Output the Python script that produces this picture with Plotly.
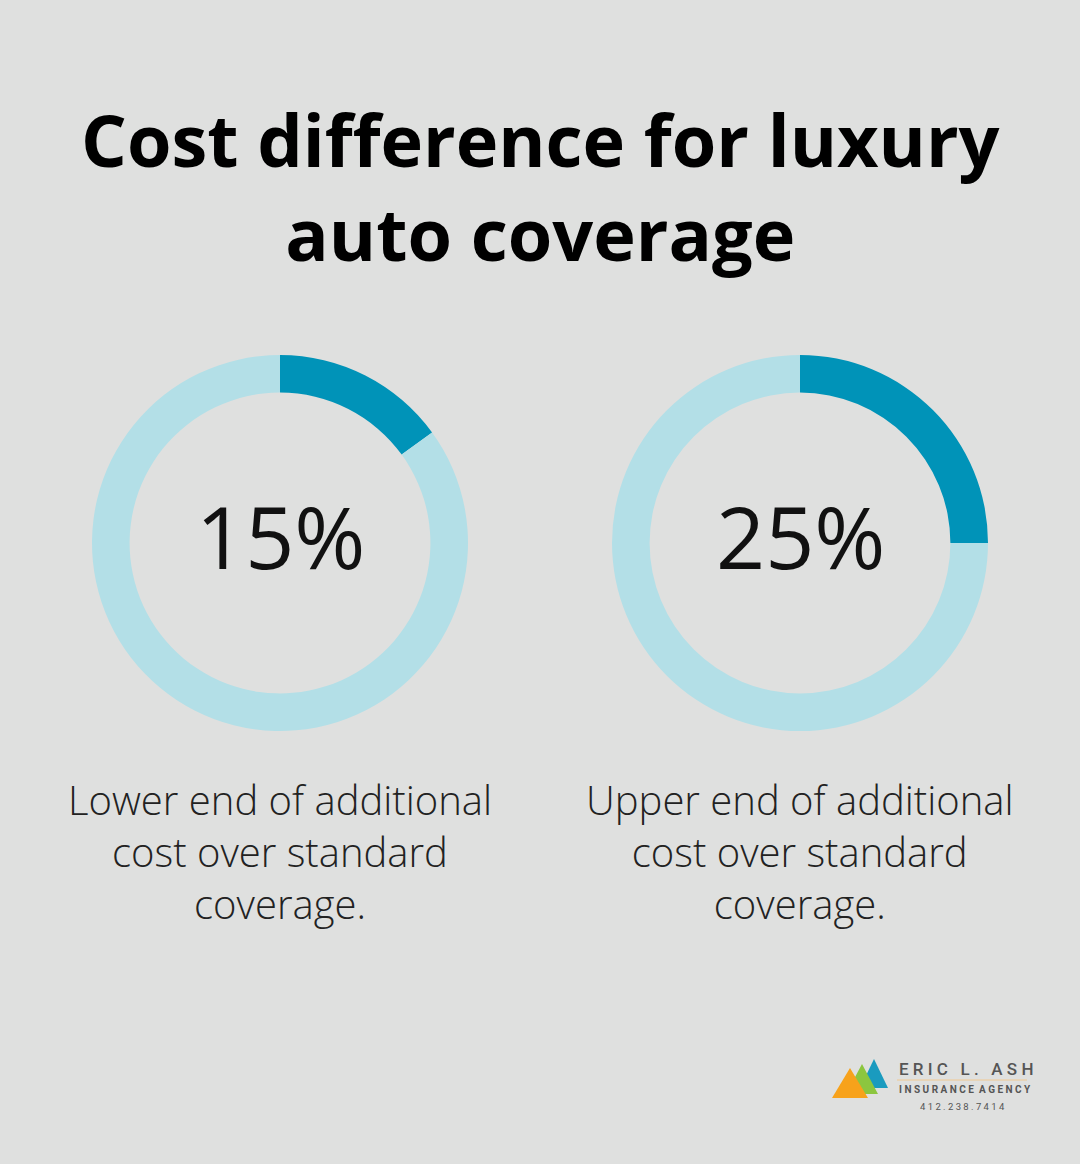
import plotly.graph_objects as go

values = [15, 25]
labels = ["15%", "25%"]
descs = ["Lower end of additional<br>cost over standard<br>coverage.",
         "Upper end of additional<br>cost over standard<br>coverage."]
centers_x = [280, 800]
W, H = 1080, 1164
cy = 543
R = 188

fig = go.Figure()
for v, cx in zip(values, centers_x):
    fig.add_trace(go.Pie(
        values=[v, 100 - v], sort=False, direction="clockwise", rotation=0,
        hole=0.80, textinfo="none", hoverinfo="skip", showlegend=False,
        marker=dict(colors=["#0093b8", "#b3dfe7"], line=dict(width=0)),
        domain=dict(x=[(cx - R) / W, (cx + R) / W], y=[(H - cy - R) / H, (H - cy + R) / H]),
    ))

ann = [dict(text="<b>Cost difference for luxury<br>auto coverage</b>", x=0.5, y=1 - 186 / H,
            xanchor="center", yanchor="middle",
            font=dict(family="Open Sans", size=72, color="#000"))]
for lab, d, cx in zip(labels, descs, centers_x):
    ann.append(dict(text=lab, x=cx / W, y=1 - 536 / H, xanchor="center", yanchor="middle",
                    font=dict(family="Open Sans", size=86, color="#111", weight=500)))
    ann.append(dict(text=d, x=cx / W, y=1 - 851 / H, xanchor="center", yanchor="middle",
                    font=dict(family="Open Sans", size=40, color="#222", weight=300)))
ann += [
    dict(text="E R I C   L .   A S H", x=897 / W, y=1 - 1069 / H, xanchor="left", yanchor="middle",
         font=dict(family="Roboto", size=17, color="#555", weight=500)),
    dict(text="I N S U R A N C E  A G E N C Y", x=897 / W, y=1 - 1089 / H, xanchor="left", yanchor="middle",
         font=dict(family="Roboto", size=10, color="#555", weight=700)),
    dict(text="4 1 2 . 2 3 8 . 7 4 1 4", x=962 / W, y=1 - 1106 / H, xanchor="center", yanchor="middle",
         font=dict(family="Roboto", size=9.5, color="#555")),
]
for a in ann:
    a.update(xref="paper", yref="paper", showarrow=False)

def tri(x0, x1, ytop, ybot, color):
    xm = (x0 + x1) / 2
    return dict(type="path", xref="paper", yref="paper", line=dict(width=0), fillcolor=color,
                path=f"M {x0/W},{1-ybot/H} L {x1/W},{1-ybot/H} L {xm/W},{1-ytop/H} Z")

shapes = [
    tri(860, 888, 1059, 1088, "#1a9bbf"),
    tri(846, 878, 1064, 1094, "#8cc63f"),
    tri(832, 868, 1068, 1098, "#f7a21b"),
    dict(type="line", xref="paper", yref="paper", x0=897 / W, x1=1027 / W,
         y0=1 - 1080 / H, y1=1 - 1080 / H, line=dict(color="#f0c890", width=1)),
]

fig.update_layout(width=W, height=H, margin=dict(l=0, r=0, t=0, b=0),
                  paper_bgcolor="#dfe0df", plot_bgcolor="#dfe0df",
                  annotations=ann, shapes=shapes)
fig.write_html("out.html", config={"displayModeBar": False},
               post_script="document.body.style.margin='0';document.body.style.overflow='hidden';")
